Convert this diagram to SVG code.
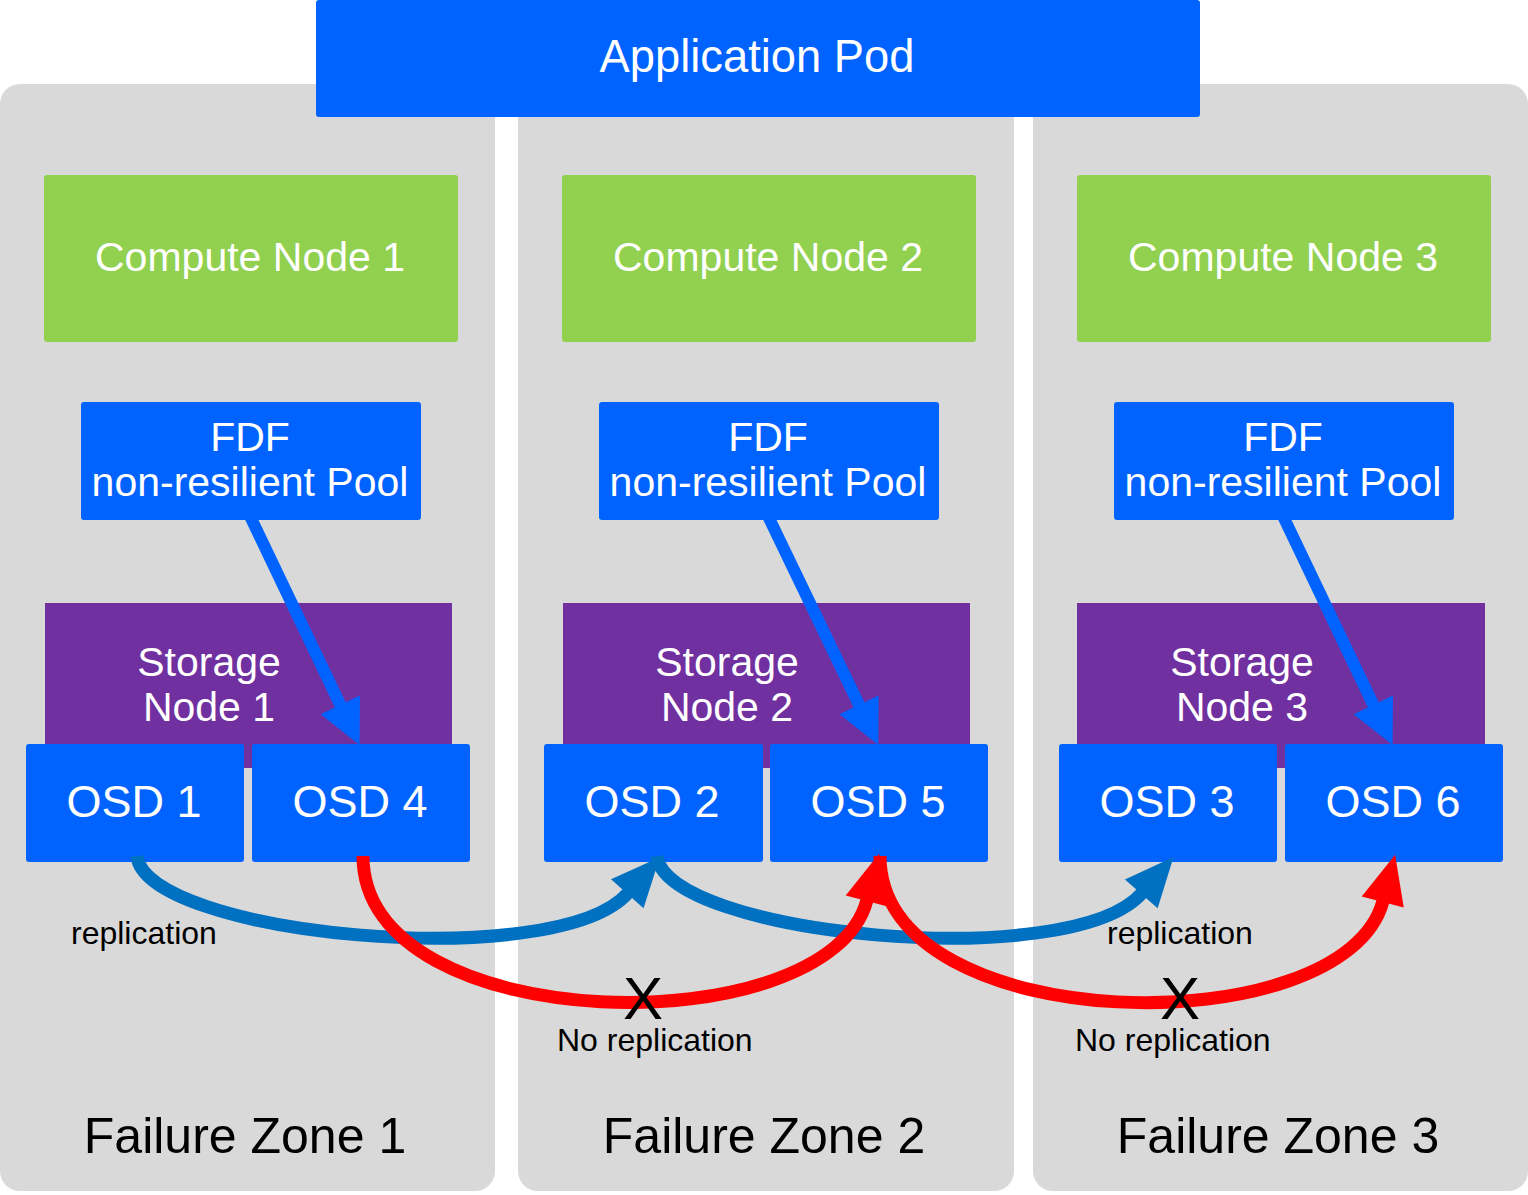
<svg xmlns="http://www.w3.org/2000/svg" width="1528" height="1195" viewBox="0 0 1528 1195">
<style>
text{font-family:"Liberation Sans",Arial,sans-serif;text-anchor:middle}
.zone{fill:#D9D9D9}
.blue{fill:#0063FF}
.green{fill:#92D050}
.purple{fill:#7030A0}
.w{fill:#FFFFFF}
.k{fill:#000000}
.l{text-anchor:start}
.str{stroke:#0063FF;stroke-width:12;fill:none}
.bc{stroke:#0070C0;stroke-width:13;fill:none}
.rc{stroke:#FF0000;stroke-width:13;fill:none}
</style>
<defs>
<marker id="hb" markerUnits="userSpaceOnUse" markerWidth="50" markerHeight="50" viewBox="0 -22 46 44" refX="0" refY="0" orient="auto" overflow="visible"><path d="M-1,-20 L40,0 L-1,20 z" fill="#0063FF"/></marker>
<marker id="hc" markerUnits="userSpaceOnUse" markerWidth="50" markerHeight="50" viewBox="0 -22 46 44" refX="0" refY="0" orient="auto" overflow="visible"><path d="M-1,-20 L44,0 L-1,20 z" fill="#0070C0"/></marker>
<marker id="hr" markerUnits="userSpaceOnUse" markerWidth="50" markerHeight="50" viewBox="0 -22 46 44" refX="0" refY="0" orient="auto" overflow="visible"><path d="M-1,-20 L44,0 L-1,20 z" fill="#FF0000"/></marker>
</defs>

<g id="zone1"><rect class="zone" x="0" y="84" width="495" height="1107" rx="20"/><text class="k" x="245" y="1153" font-size="50">Failure Zone 1</text></g>
<g id="zone2"><rect class="zone" x="518" y="84" width="496" height="1107" rx="20"/><text class="k" x="764" y="1153" font-size="50">Failure Zone 2</text></g>
<g id="zone3"><rect class="zone" x="1033" y="84" width="495" height="1107" rx="20"/><text class="k" x="1278" y="1153" font-size="50">Failure Zone 3</text></g>

<g id="app-pod"><rect class="blue" x="316" y="0" width="884" height="117" rx="3"/><text class="w" x="757" y="72" font-size="45.3">Application Pod</text></g>

<g id="compute1"><rect class="green" x="44" y="175" width="414" height="167" rx="3"/><text class="w" x="250" y="271" font-size="41">Compute Node 1</text></g>
<g id="compute2"><rect class="green" x="562" y="175" width="414" height="167" rx="3"/><text class="w" x="768" y="271" font-size="41">Compute Node 2</text></g>
<g id="compute3"><rect class="green" x="1077" y="175" width="414" height="167" rx="3"/><text class="w" x="1283" y="271" font-size="41">Compute Node 3</text></g>

<g id="fdf1"><rect class="blue" x="81" y="402" width="340" height="118" rx="3"/><text class="w" x="250" y="451" font-size="41">FDF</text><text class="w" x="250" y="496" font-size="41">non-resilient Pool</text></g>
<g id="fdf2"><rect class="blue" x="599" y="402" width="340" height="118" rx="3"/><text class="w" x="768" y="451" font-size="41">FDF</text><text class="w" x="768" y="496" font-size="41">non-resilient Pool</text></g>
<g id="fdf3"><rect class="blue" x="1114" y="402" width="340" height="118" rx="3"/><text class="w" x="1283" y="451" font-size="41">FDF</text><text class="w" x="1283" y="496" font-size="41">non-resilient Pool</text></g>

<g id="storage1"><rect class="purple" x="45" y="603" width="407" height="165"/><text class="w" x="209" y="676" font-size="41">Storage</text><text class="w" x="209" y="721" font-size="41">Node 1</text></g>
<g id="storage2"><rect class="purple" x="563" y="603" width="407" height="165"/><text class="w" x="727" y="676" font-size="41">Storage</text><text class="w" x="727" y="721" font-size="41">Node 2</text></g>
<g id="storage3"><rect class="purple" x="1077" y="603" width="408" height="165"/><text class="w" x="1242" y="676" font-size="41">Storage</text><text class="w" x="1242" y="721" font-size="41">Node 3</text></g>

<g id="osd1"><rect class="blue" x="26" y="744" width="218" height="118" rx="3"/><text class="w" x="134" y="817" font-size="45">OSD 1</text></g>
<g id="osd4"><rect class="blue" x="252" y="744" width="218" height="118" rx="3"/><text class="w" x="360" y="817" font-size="45">OSD 4</text></g>
<g id="osd2"><rect class="blue" x="544" y="744" width="219" height="118" rx="3"/><text class="w" x="652" y="817" font-size="45">OSD 2</text></g>
<g id="osd5"><rect class="blue" x="770" y="744" width="218" height="118" rx="3"/><text class="w" x="878" y="817" font-size="45">OSD 5</text></g>
<g id="osd3"><rect class="blue" x="1059" y="744" width="218" height="118" rx="3"/><text class="w" x="1167" y="817" font-size="45">OSD 3</text></g>
<g id="osd6"><rect class="blue" x="1285" y="744" width="218" height="118" rx="3"/><text class="w" x="1393" y="817" font-size="45">OSD 6</text></g>

<g id="connectors">
<path class="str" d="M250,516 L340.8,705.9" marker-end="url(#hb)"/>
<path class="str" d="M768,516 L859.5,705.9" marker-end="url(#hb)"/>
<path class="str" d="M1283,516 L1373.8,705.9" marker-end="url(#hb)"/>

<path class="bc" d="M137,856 C145,935 555,975 628,893" marker-end="url(#hc)"/>
<path class="bc" d="M657,856 C665,935 1070,975 1142,893" marker-end="url(#hc)"/>

<path class="rc" d="M363,856 C363,1040 829,1046 867,900" marker-end="url(#hr)"/>
<path class="rc" d="M880,856 C880,1040 1345,1046 1383,901" marker-end="url(#hr)"/>

<text class="k" x="643" y="1019" font-size="60">X</text>
<text class="k" x="1180" y="1019" font-size="60">X</text>
<text class="k l" x="71" y="944" font-size="32">replication</text>
<text class="k l" x="1107" y="944" font-size="32">replication</text>
<text class="k l" x="557" y="1051" font-size="32">No replication</text>
<text class="k l" x="1075" y="1051" font-size="32">No replication</text>
</g>
</svg>
